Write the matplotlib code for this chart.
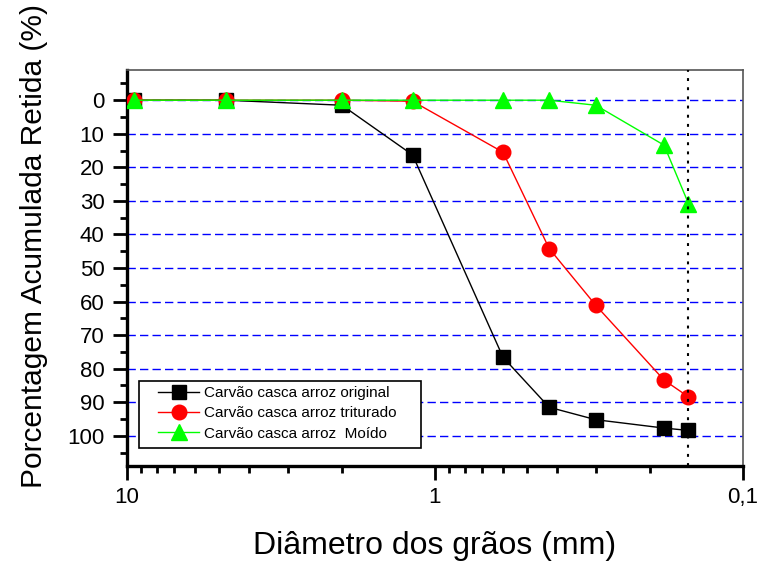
import matplotlib
matplotlib.use("Agg")
import matplotlib.pyplot as plt
from matplotlib.patches import Rectangle
from matplotlib.ticker import FixedLocator, FixedFormatter, LogLocator, NullFormatter, MultipleLocator

plt.rcParams['font.family'] = ['Liberation Sans', 'DejaVu Sans']

# Data
diametro = [9.5, 4.75, 2.0, 1.18, 0.6, 0.425, 0.3, 0.18, 0.15]
original = [0, 0, 1.5, 16.3, 76.6, 91.5, 95.2, 97.7, 98.4]
triturado = [0, 0, 0, 0.3, 15.5, 44.2, 61.1, 83.4, 88.4]
moido = [0, 0, 0, 0, 0, 0, 1.5, 13.4, 30.8]
labels = ["Carvão casca arroz original", "Carvão casca arroz triturado", "Carvão casca arroz  Moído"]
x_ticks = [10, 1, 0.1]
x_ticklabels = ["10", "1", "0,1"]
y_ticks = list(range(0, 101, 10))
corte = 0.15

W, H = 757, 563
fig = plt.figure(figsize=(W / 100, H / 100), dpi=100)
left, right, top, bottom = 126.7, 742.7, 70, 466
aw, ah = right - left, bottom - top
ax = fig.add_axes([left / W, 1 - bottom / H, aw / W, ah / H])

ax.set_xscale('log')
ax.set_xlim(10, 0.1)
ax.set_ylim(109, -9)

for yv in y_ticks:
    ax.axhline(yv, color='#0000ff', lw=1.0, ls=(0, (6, 3)), zorder=1)

ax.plot(diametro, original, '-s', color='black', lw=1, ms=10, mfc='black', mec='black', label=labels[0], zorder=3)
ax.plot(diametro, triturado, '-o', color='#ff0000', lw=1, ms=10.5, mfc='#ff0000', mec='#ff0000', label=labels[1], zorder=3)
ax.plot(diametro, moido, '-^', color='#00ff00', lw=1, ms=11, mfc='#00ff00', mec='#00ff00', label=labels[2], zorder=4)

ax.axvline(corte, color='black', lw=1.5, ls=(0, (1.4, 3)), zorder=6)

ax.xaxis.set_major_locator(FixedLocator(x_ticks))
ax.xaxis.set_major_formatter(FixedFormatter(x_ticklabels))
ax.xaxis.set_minor_locator(LogLocator(base=10, subs=[2, 3, 4, 5, 6, 7, 8, 9]))
ax.xaxis.set_minor_formatter(NullFormatter())
ax.yaxis.set_major_locator(FixedLocator(y_ticks))
ax.yaxis.set_minor_locator(MultipleLocator(5))

ax.tick_params(which='major', direction='out', length=10, width=2, labelsize=16, colors='black')
ax.tick_params(which='minor', direction='out', length=5, width=2)
ax.tick_params(axis='y', which='major', pad=6)
ax.tick_params(axis='x', which='major', pad=5)
ax.tick_params(top=False, right=False, which='both')

ax.spines['left'].set_linewidth(2.4)
ax.spines['bottom'].set_linewidth(2.4)
ax.spines['top'].set_linewidth(1.2)
ax.spines['right'].set_linewidth(1.2)
ax.spines['top'].set_color('#555555')
ax.spines['right'].set_color('#555555')

ax.set_xlabel("Diâmetro dos grãos (mm)", fontsize=23, labelpad=17)
ax.set_ylabel("Porcentagem Acumulada Retida (%)", fontsize=21.5)
ax.yaxis.set_label_coords((48 - left) / aw, (bottom - 246.5) / ah)

# legend frame (drawn manually for its asymmetric padding)
lx0, lx1, ly0, ly1 = 139, 421, 381, 448
ax.add_patch(Rectangle(((lx0 - left) / aw, (bottom - ly1) / ah), (lx1 - lx0) / aw, (ly1 - ly0) / ah,
                       transform=ax.transAxes, facecolor='white', edgecolor='black', lw=1.2, zorder=5))
leg = ax.legend(loc='upper left', bbox_to_anchor=((158 - left) / aw, (bottom - 386) / ah), borderaxespad=0,
                borderpad=0, fontsize=11, frameon=False, handlelength=2.7,
                handletextpad=0.3, labelspacing=0.42)
leg.set_zorder(6)

fig.savefig("out.png", dpi=100)
